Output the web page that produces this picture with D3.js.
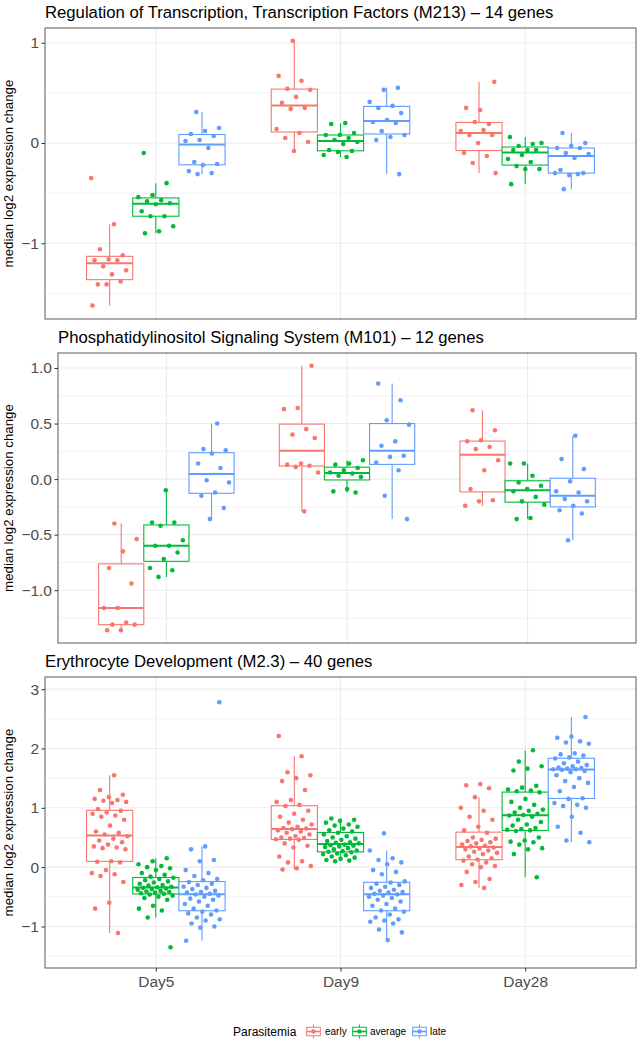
<!DOCTYPE html>
<html><head><meta charset="utf-8">
<script src="https://cdn.jsdelivr.net/npm/d3@7"></script>
<style>body{margin:0;background:#fff}svg{display:block}text{font-family:"Liberation Sans",Arial,Helvetica,sans-serif}</style>
</head><body>
<script>
const days = ["Day5","Day9","Day28"];
const groups = ["early","average","late"];
const groupColors = ["#F8766D","#00BA38","#619CFF"];

// Regulation of Transcription, Transcription Factors (M213) - 14 genes ; [Day5, Day9, Day28]
const m213Early = [
 [-0.35,-0.81,-1.06,-1.12,-1.16,-1.17,-1.17,-1.23,-1.27,-1.31,-1.41,-1.38,-1.41,-1.62],
 [1.02,0.67,0.62,0.54,0.53,0.46,0.40,0.35,0.34,0.14,0.10,0.05,0.01,-0.08],
 [0.61,0.33,0.35,0.19,0.21,0.12,0.13,0.08,0.08,0.00,-0.10,-0.13,-0.20,-0.30]];
const m213Average = [
 [-0.10,-0.40,-0.52,-0.54,-0.57,-0.58,-0.60,-0.61,-0.68,-0.73,-0.73,-0.83,-0.88,-0.90],
 [0.20,0.19,0.10,0.08,0.08,0.05,0.03,0.01,-0.01,-0.07,-0.08,-0.09,-0.12,-0.14],
 [0.06,-0.01,-0.03,0.00,-0.07,-0.07,-0.07,-0.12,-0.16,-0.19,-0.23,-0.26,-0.26,-0.41]];
const m213Late = [
 [0.31,0.15,0.12,0.09,0.07,0.03,0.02,-0.05,-0.19,-0.21,-0.22,-0.28,-0.30,-0.31],
 [0.55,0.53,0.41,0.37,0.35,0.30,0.23,0.21,0.20,0.12,0.08,0.06,0.03,-0.31],
 [0.10,0.00,-0.03,-0.05,-0.05,-0.10,-0.11,-0.15,-0.27,-0.30,-0.32,-0.30,-0.31,-0.46]];

// Phosphatidylinositol Signaling System (M101) - 12 genes
const m101Early = [
 [-0.40,-0.54,-0.65,-0.80,-0.94,-1.16,-1.16,-1.29,-1.31,-1.31,-1.36,-1.36],
 [1.02,0.64,0.63,0.45,0.40,0.37,0.14,0.13,0.12,0.11,0.06,-0.29],
 [0.62,0.44,0.35,0.34,0.29,0.27,0.17,0.08,-0.09,-0.19,-0.20,-0.24]];
const m101Average = [
 [-0.10,-0.39,-0.39,-0.42,-0.55,-0.60,-0.60,-0.66,-0.72,-0.80,-0.82,-0.88],
 [0.17,0.14,0.13,0.10,0.08,0.06,0.05,0.03,0.02,-0.09,-0.11,-0.12],
 [0.14,0.14,0.03,-0.03,-0.06,-0.09,-0.11,-0.16,-0.20,-0.23,-0.35,-0.36]];
const m101Late = [
 [0.50,0.27,0.26,0.23,0.14,0.10,-0.01,-0.03,-0.12,-0.15,-0.26,-0.36],
 [0.86,0.71,0.53,0.49,0.34,0.30,0.21,0.20,0.15,0.08,-0.15,-0.36],
 [0.39,0.18,0.09,-0.02,-0.11,-0.12,-0.18,-0.20,-0.24,-0.28,-0.31,-0.55]];

// Erythrocyte Development (M2.3) - 40 genes
const m23Early = [
 [1.55,1.30,1.22,1.18,1.15,1.13,1.12,1.10,1.08,0.98,0.95,0.92,0.90,0.87,0.85,0.80,0.70,0.60,0.58,0.55,0.52,0.48,0.45,0.42,0.38,0.35,0.33,0.32,0.30,0.10,0.09,0.08,-0.05,-0.10,-0.12,-0.15,-0.25,-0.60,-0.70,-1.11],
 [2.21,1.87,1.60,1.55,1.50,1.45,1.30,1.13,1.10,1.05,1.03,0.95,0.90,0.85,0.80,0.75,0.72,0.68,0.66,0.65,0.64,0.62,0.60,0.58,0.55,0.52,0.50,0.49,0.48,0.47,0.46,0.40,0.36,0.33,0.18,0.10,0.08,0.02,-0.02,-0.04],
 [1.40,1.38,1.33,1.18,1.00,0.95,0.85,0.80,0.68,0.62,0.58,0.50,0.48,0.46,0.44,0.42,0.40,0.38,0.36,0.35,0.33,0.31,0.30,0.28,0.26,0.24,0.22,0.18,0.15,0.13,0.11,0.08,0.05,0.02,0.00,-0.08,-0.20,-0.25,-0.30,-0.35]];
const m23Average = [
 [0.15,0.10,0.05,0.02,0.00,-0.02,-0.05,-0.10,-0.13,-0.16,-0.18,-0.20,-0.22,-0.24,-0.26,-0.28,-0.30,-0.31,-0.33,-0.34,-0.35,-0.36,-0.37,-0.38,-0.40,-0.41,-0.42,-0.43,-0.44,-0.45,-0.46,-0.48,-0.50,-0.52,-0.55,-0.65,-0.70,-0.73,-0.85,-1.35],
 [0.82,0.80,0.78,0.75,0.72,0.70,0.68,0.65,0.62,0.60,0.58,0.55,0.52,0.50,0.48,0.46,0.44,0.42,0.41,0.40,0.38,0.37,0.36,0.35,0.34,0.32,0.30,0.28,0.27,0.26,0.25,0.23,0.22,0.20,0.18,0.16,0.14,0.12,0.11,0.10],
 [1.97,1.78,1.70,1.66,1.63,1.37,1.34,1.31,1.29,1.28,1.26,1.15,1.10,1.05,1.00,0.97,0.95,0.92,0.90,0.88,0.87,0.85,0.80,0.76,0.72,0.70,0.66,0.64,0.63,0.62,0.61,0.50,0.45,0.43,0.42,0.38,0.32,0.30,0.22,-0.17]];
const m23Late = [
 [2.78,0.35,0.30,0.12,0.10,-0.05,-0.10,-0.15,-0.20,-0.22,-0.25,-0.28,-0.30,-0.33,-0.35,-0.37,-0.40,-0.42,-0.43,-0.45,-0.46,-0.48,-0.50,-0.53,-0.55,-0.58,-0.62,-0.65,-0.70,-0.73,-0.75,-0.78,-0.80,-0.85,-0.88,-0.90,-0.95,-1.00,-1.02,-1.24],
 [0.57,0.28,0.15,0.12,0.08,0.05,-0.05,-0.08,-0.12,-0.24,-0.26,-0.28,-0.30,-0.33,-0.35,-0.38,-0.40,-0.42,-0.43,-0.45,-0.46,-0.48,-0.50,-0.52,-0.55,-0.58,-0.62,-0.65,-0.70,-0.73,-0.75,-0.80,-0.85,-0.88,-0.90,-0.92,-0.95,-1.05,-1.10,-1.23],
 [2.53,2.20,2.18,2.12,2.10,2.08,1.92,1.90,1.88,1.85,1.83,1.78,1.75,1.72,1.70,1.68,1.67,1.66,1.65,1.65,1.64,1.62,1.60,1.55,1.50,1.45,1.42,1.35,1.28,1.16,1.15,1.08,1.05,1.03,1.00,0.85,0.68,0.58,0.45,0.42]];

const titles = ["Regulation of Transcription, Transcription Factors (M213) \u2013 14 genes",
  "Phosphatidylinositol Signaling System (M101) \u2013 12 genes",
  "Erythrocyte Development (M2.3) \u2013 40 genes"];
const yTicks = [[-1,0,1],[-1.0,-0.5,0.0,0.5,1.0],[-1,0,1,2,3]];
const yMinor = [[-1.5,-0.5,0.5],[-1.25,-0.75,-0.25,0.25,0.75],[-1.5,-0.5,0.5,1.5,2.5]];
const yTickFmt = [d3.format("d"), d3.format(".1f"), d3.format("d")];
const yTitle = "median log2 expression change";
const legendTitle = "Parasitemia";

const panelData = [[m213Early,m213Average,m213Late],[m101Early,m101Average,m101Late],[m23Early,m23Average,m23Late]];

// layout
const W = 643, H = 1048;
const layout = [
  {left:45, right:636, top:28, bottom:319, ydom:[-1.755,1.147]},
  {left:58, right:636, top:353, bottom:643, ydom:[-1.475,1.135]},
  {left:45, right:636, top:677, bottom:968, ydom:[-1.70,3.205]}
];

const svg = d3.select("body").append("svg").attr("width",W).attr("height",H);
svg.append("rect").attr("width",W).attr("height",H).attr("fill","#fff");

function stats(arr){
  const s = arr.slice().sort(d3.ascending);
  const q1 = d3.quantileSorted(s,0.25), med = d3.quantileSorted(s,0.5), q3 = d3.quantileSorted(s,0.75);
  const iqr = q3-q1;
  const lo = d3.min(s.filter(v=>v>=q1-1.5*iqr)), hi = d3.max(s.filter(v=>v<=q3+1.5*iqr));
  return {q1,med,q3,lo,hi};
}

panelData.forEach((pd,p)=>{
  const L = layout[p];
  const x = d3.scaleLinear().domain([0.4,3.6]).range([L.left,L.right]);
  const y = d3.scaleLinear().domain(L.ydom).range([L.bottom,L.top]);
  const g = svg.append("g");
  // grid
  g.selectAll(".mn").data(yMinor[p]).join("line")
    .attr("x1",L.left).attr("x2",L.right).attr("y1",d=>y(d)).attr("y2",d=>y(d))
    .attr("stroke","#EBEBEB").attr("stroke-width",0.6);
  g.selectAll(".mj").data(yTicks[p]).join("line")
    .attr("x1",L.left).attr("x2",L.right).attr("y1",d=>y(d)).attr("y2",d=>y(d))
    .attr("stroke","#EBEBEB").attr("stroke-width",1.1);
  g.selectAll(".vx").data(days).join("line")
    .attr("x1",(d,i)=>x(i+1)).attr("x2",(d,i)=>x(i+1)).attr("y1",L.top).attr("y2",L.bottom)
    .attr("stroke","#EBEBEB").attr("stroke-width",1.1);

  const bw = 0.25;
  pd.forEach((series,gi)=>{
    const col = groupColors[gi];
    series.forEach((vals,di)=>{
      const cx = di+1 + (gi-1)*bw;
      const st = stats(vals);
      const bg = g.append("g");
      bg.append("line").attr("x1",x(cx)).attr("x2",x(cx)).attr("y1",y(st.q3)).attr("y2",y(st.hi))
        .attr("stroke",col).attr("stroke-width",1.1);
      bg.append("line").attr("x1",x(cx)).attr("x2",x(cx)).attr("y1",y(st.q1)).attr("y2",y(st.lo))
        .attr("stroke",col).attr("stroke-width",1.1);
      bg.append("rect").attr("x",x(cx-bw/2)).attr("width",x(cx+bw/2)-x(cx-bw/2))
        .attr("y",y(st.q3)).attr("height",y(st.q1)-y(st.q3))
        .attr("fill","#fff").attr("stroke",col).attr("stroke-width",1.1);
      bg.append("line").attr("x1",x(cx-bw/2)).attr("x2",x(cx+bw/2)).attr("y1",y(st.med)).attr("y2",y(st.med))
        .attr("stroke",col).attr("stroke-width",2);
    });
  });
  pd.forEach((series,gi)=>{
    const col = groupColors[gi];
    series.forEach((vals,di)=>{
      const cx = di+1 + (gi-1)*bw;
      g.append("g").selectAll("circle").data(vals).join("circle")
        .attr("cx",(v,i)=>{ const f = ((i*0.6180339887 + p*0.311 + gi*0.173 + di*0.457)%1); return x(cx + (f*2-1)*0.1); })
        .attr("cy",v=>y(v)).attr("r",2.3).attr("fill",col);
    });
  });

  // border
  g.append("rect").attr("x",L.left).attr("y",L.top).attr("width",L.right-L.left).attr("height",L.bottom-L.top)
    .attr("fill","none").attr("stroke","#5a5a5a").attr("stroke-width",1);

  // y axis
  const ya = g.append("g").attr("transform",`translate(${L.left},0)`)
    .call(d3.axisLeft(y).tickValues(yTicks[p]).tickFormat(yTickFmt[p]).tickSize(3.5).tickPadding(2.5));
  ya.select(".domain").remove();
  ya.selectAll(".tick line").attr("stroke","#333");
  ya.selectAll(".tick text").attr("fill","#4D4D4D").style("font-size","15.5px").attr("font-family",null);

  // y title
  g.append("text").attr("transform",`translate(12.5,${(L.top+L.bottom)/2}) rotate(-90)`)
    .attr("text-anchor","middle").style("font-size","13.3px").attr("fill","#000").text(yTitle);

  // title
  g.append("text").attr("x",L.left).attr("y",L.top-10).style("font-size","16.7px").attr("fill","#000").text(titles[p]);

  if(p===2){
    const xa = g.append("g").attr("transform",`translate(0,${L.bottom})`)
      .call(d3.axisBottom(x).tickValues([1,2,3]).tickFormat((d,i)=>days[i]).tickSize(3.5).tickPadding(4.5));
    xa.select(".domain").remove();
    xa.selectAll(".tick line").attr("stroke","#333");
    xa.selectAll(".tick text").attr("fill","#4D4D4D").style("font-size","15.5px").attr("font-family",null);
  }
});

// legend
const lg = svg.append("g");
lg.append("text").attr("x",233).attr("y",1036).style("font-size","12px").attr("fill","#000").text(legendTitle);
const keyX = [305,351,411], labX=[325,370,430];
groups.forEach((gname,i)=>{
  const col = groupColors[i];
  const kx = keyX[i], ky = 1023, ks = 17;
  const k = lg.append("g");
  k.append("line").attr("x1",kx+ks/2).attr("x2",kx+ks/2).attr("y1",ky+1.5).attr("y2",ky+ks-1.5).attr("stroke",col).attr("stroke-width",1);
  k.append("rect").attr("x",kx+1.7).attr("y",ky+ks*0.25).attr("width",ks-3.4).attr("height",ks*0.5)
    .attr("fill","#fff").attr("stroke",col).attr("stroke-width",1);
  k.append("line").attr("x1",kx+1.7).attr("x2",kx+ks-1.7).attr("y1",ky+ks/2).attr("y2",ky+ks/2).attr("stroke",col).attr("stroke-width",1.6);
  k.append("circle").attr("cx",kx+ks/2).attr("cy",ky+ks/2).attr("r",2.2).attr("fill",col);
  lg.append("text").attr("x",labX[i]).attr("y",1035).style("font-size","10px").attr("fill","#000").text(gname);
});
</script>
</body></html>
